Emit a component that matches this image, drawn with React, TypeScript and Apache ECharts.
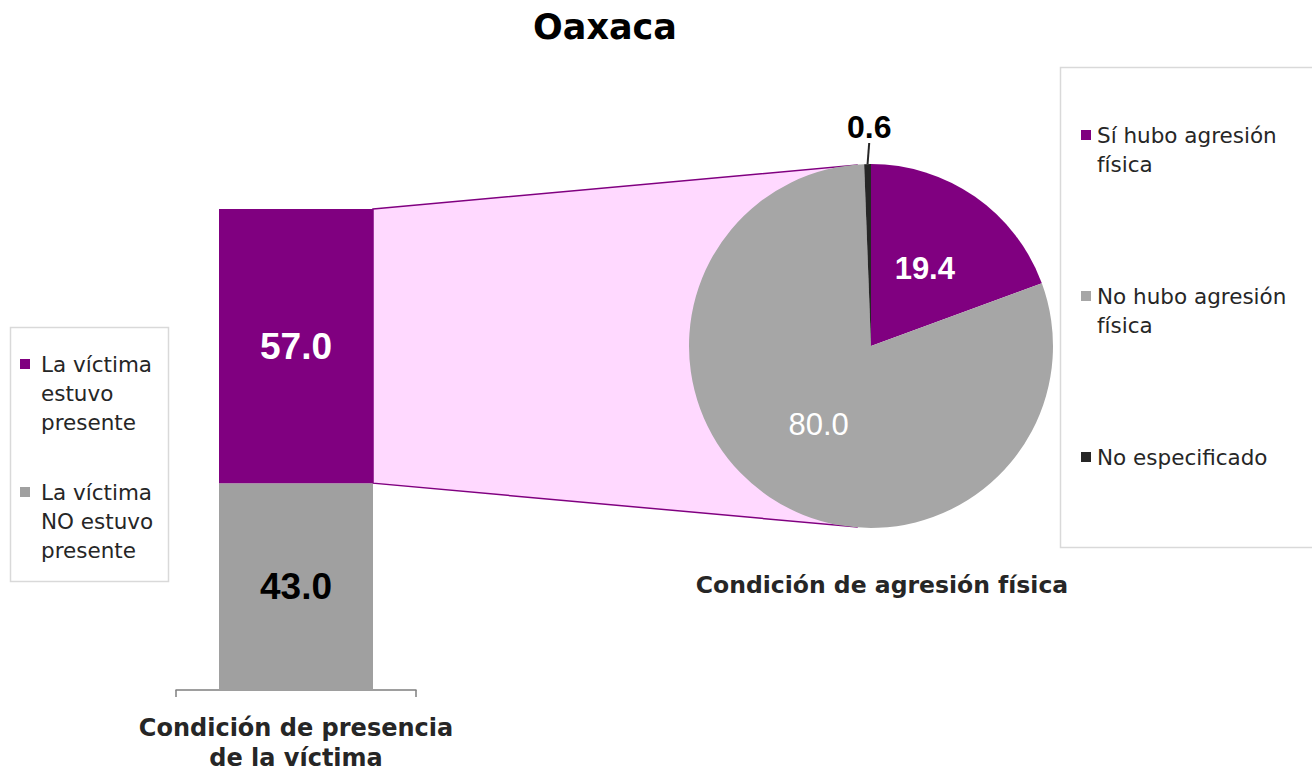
import React, { useEffect, useRef } from "react";
import * as echarts from "echarts";

const chartTitle = "Oaxaca";
const barCategories = ["Condición de presencia\nde la víctima"];
const presentName = "La víctima\nestuvo\npresente";
const absentName = "La víctima\nNO estuvo\npresente";
const presentValues = [57.0];
const absentValues = [43.0];
const pieTitle = "Condición de agresión física";
const pieNames = ["Sí hubo agresión\nfísica", "No hubo agresión\nfísica", "No especificado"];
const pieValues = [19.4, 80.0, 0.6];

const FONT = "'DejaVu Sans', Verdana, sans-serif";
const NUM_FONT = "'Liberation Sans', Arial, sans-serif";
const PURPLE = "#800080";
const BAR_GRAY = "#A0A0A0";
const PIE_GRAY = "#A6A6A6";
const DARK = "#262626";
const PIE_CENTER = [871, 346];
const PIE_R = 182;
const BAR_W = 154;

// pad a multi-line legend name with blank lines so its first line sits level with the icon
const padName = (name: string, extra: number) => {
  const n = name.split("\n").length;
  return "\n".repeat(n - 1 + extra) + name + "\n".repeat(extra);
};

export default function App() {
  const ref = useRef<HTMLDivElement>(null);
  useEffect(() => {
    if (!ref.current) return;
    const chart = echarts.init(ref.current, null, { renderer: "svg" });
    const L = 29;
    const option: any = {
      animation: false,
      backgroundColor: "#fff",
      textStyle: { fontFamily: FONT },
      title: [
        {
          text: chartTitle,
          left: 600,
          textAlign: "center",
          top: 4,
          textStyle: { fontFamily: FONT, fontSize: 35, fontWeight: "bold", color: "#000" },
        },
        {
          text: pieTitle,
          left: 877,
          textAlign: "center",
          top: 568,
          textStyle: { fontFamily: FONT, fontSize: 23.5, fontWeight: "bold", color: DARK },
        },
      ],
      legend: [
        {
          orient: "vertical",
          left: 20,
          top: 364 - (5 * L) / 2,
          padding: 0,
          itemGap: 128 - 5 * L,
          itemWidth: 10,
          itemHeight: 10,
          icon: "rect",
          selectedMode: false,
          formatter: (name: string) => padName(name, 0),
          textStyle: { fontFamily: FONT, fontSize: 21.5, lineHeight: L, color: DARK, padding: [0, 0, 0, 6] },
          data: [presentName, absentName],
        },
        {
          orient: "vertical",
          left: 1081,
          top: 135 - (3 * L) / 2,
          padding: 0,
          itemGap: 161 - 3 * L,
          itemWidth: 10,
          itemHeight: 10,
          icon: "rect",
          selectedMode: false,
          formatter: (name: string) => padName(name, name.split("\n").length === 1 ? 1 : 0),
          textStyle: { fontFamily: FONT, fontSize: 21.5, lineHeight: L, color: DARK, padding: [0, 0, 0, 1] },
          data: pieNames,
        },
      ],
      grid: { left: 176, right: 1312 - 416, top: 209, bottom: 774 - 690, containLabel: false },
      xAxis: {
        type: "category",
        data: barCategories,
        axisLine: { show: true, lineStyle: { color: "#7F7F7F", width: 1.5 } },
        axisTick: { show: true, length: 7, lineStyle: { color: "#7F7F7F", width: 1.5 } },
        axisLabel: {
          margin: 23,
          fontFamily: FONT,
          fontSize: 24,
          fontWeight: "bold",
          lineHeight: 30,
          color: DARK,
        },
      },
      yAxis: { type: "value", min: 0, max: 100, show: false, splitLine: { show: false } },
      series: [
        {
          name: absentName,
          type: "bar",
          stack: "total",
          barWidth: BAR_W,
          data: absentValues,
          itemStyle: { color: BAR_GRAY },
          label: {
            show: true,
            position: "inside",
            formatter: (p: any) => p.value.toFixed(1),
            fontFamily: NUM_FONT,
            fontSize: 37,
            fontWeight: "bold",
            color: "#000",
          },
          z: 3,
        },
        {
          name: presentName,
          type: "bar",
          stack: "total",
          barWidth: BAR_W,
          data: presentValues,
          itemStyle: { color: PURPLE },
          label: {
            show: true,
            position: "inside",
            formatter: (p: any) => p.value.toFixed(1),
            fontFamily: NUM_FONT,
            fontSize: 37,
            fontWeight: "bold",
            color: "#fff",
          },
          z: 3,
        },
        {
          type: "pie",
          center: PIE_CENTER,
          radius: PIE_R,
          startAngle: 90,
          clockwise: true,
          z: 3,
          label: {
            show: true,
            position: "inside",
            formatter: (p: any) => p.value.toFixed(1),
            fontFamily: NUM_FONT,
            fontSize: 31,
            color: "#fff",
          },
          labelLine: { show: false },
          labelLayout: (p: any) => {
            if (p.dataIndex !== 2 || !p.labelLinePoints) return {};
            const pts = p.labelLinePoints;
            const end = pts[pts.length - 1];
            return { x: end[0] + 2, y: end[1] - 1, align: "center", verticalAlign: "bottom" };
          },
          data: [
            {
              name: pieNames[0],
              value: pieValues[0],
              itemStyle: { color: PURPLE },
              label: { fontWeight: "bold" },
            },
            { name: pieNames[1], value: pieValues[1], itemStyle: { color: PIE_GRAY } },
            {
              name: pieNames[2],
              value: pieValues[2],
              itemStyle: { color: DARK },
              label: {
                position: "outside",
                color: "#000",
                fontSize: 32,
                fontWeight: "bold",
              },
              labelLine: { show: true, length: 20, length2: 0, lineStyle: { color: DARK, width: 2 } },
            },
          ],
        },
      ],
    };
    chart.setOption(option);

    const top = chart.convertToPixel({ seriesIndex: 1 }, [0, 100]) as number[];
    const mid = chart.convertToPixel({ seriesIndex: 1 }, [0, absentValues[0]]) as number[];
    const bx = top[0] + BAR_W / 2;
    const px = PIE_CENTER[0] - 14;
    chart.setOption({
      graphic: [
        {
          type: "polygon",
          z: 1,
          shape: {
            points: [
              [bx, top[1]],
              [px, PIE_CENTER[1] - PIE_R + 1],
              [px, PIE_CENTER[1] + PIE_R - 1],
              [bx, mid[1]],
            ],
          },
          style: { fill: "#FFD9FF", stroke: PURPLE, lineWidth: 1.5 },
        },
        {
          type: "rect",
          z: 0,
          shape: { x: 10.5, y: 327.5, width: 158, height: 254 },
          style: { fill: "none", stroke: "#D9D9D9", lineWidth: 1.5 },
        },
        {
          type: "rect",
          z: 0,
          shape: { x: 1060.5, y: 67.5, width: 260, height: 480 },
          style: { fill: "none", stroke: "#D9D9D9", lineWidth: 1.5 },
        },
      ],
    });
    return () => chart.dispose();
  }, []);
  return (
    <div
      ref={ref}
      style={{ position: "fixed", left: 0, top: 0, width: 1312, height: 774 }}
    />
  );
}
